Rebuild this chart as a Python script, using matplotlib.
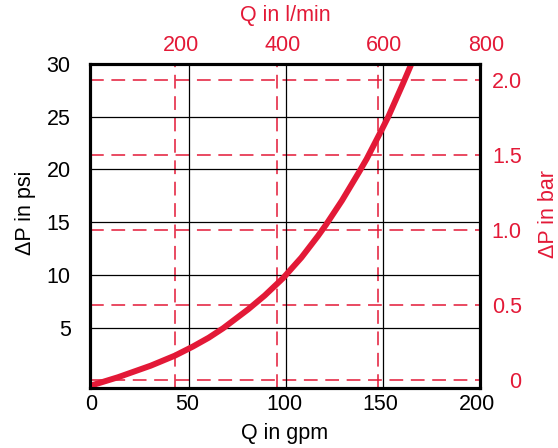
import numpy as np
import matplotlib
matplotlib.use("Agg")
import matplotlib.pyplot as plt
from matplotlib.transforms import ScaledTranslation

plt.rcParams['font.family'] = ['Liberation Sans', 'DejaVu Sans']

# pressure drop curve (Q in gpm, dP in psi)
q_gpm = [-1.2, 13, 30, 42.5, 51.7, 60, 67.5, 80.5, 89, 98.5, 108, 116.6,
         120.7, 129, 138, 141.8, 149.7, 153, 160.5, 164.6, 166]
dp_psi = [-0.5, 0.3, 1.4, 2.35, 3.2, 4.05, 4.95, 6.75, 8.05, 9.7, 11.65, 13.7,
          14.75, 17.05, 19.8, 21.0, 23.8, 25.0, 28.1, 29.85, 30.5]

gpm_ticks = [0, 50, 100, 150, 200]
psi_ticks = [5, 10, 15, 20, 25, 30]
lpm_ticks = [200, 400, 600, 800]
bar_ticks = [0, 0.5, 1.0, 1.5, 2.0]
bar_labels = ['0', '0.5', '1.0', '1.5', '2.0']

RED = '#e31937'
FS = 15.5

fig = plt.figure(figsize=(5.58, 4.48), dpi=100)
ax = fig.add_axes([90 / 558, 1 - 388 / 448, 390 / 558, 324 / 448])
ax_top = ax.twiny()
ax_right = ax.twinx()

# black grid (primary units)
for x in gpm_ticks[1:-1]:
    ax.axvline(x, color='black', lw=0.9)
for y in psi_ticks[:-1]:
    ax.axhline(y, color='black', lw=0.9)

# red dashed grid (metric units)
for x in lpm_ticks:
    ax_top.axvline(x, color=RED, lw=1.1, dashes=(9, 5))
for y in bar_ticks:
    ax_right.axhline(y, color=RED, lw=1.1, dashes=(9, 5))

ax.plot(q_gpm, dp_psi, color=RED, lw=4.3, solid_capstyle='butt',
        solid_joinstyle='round')

ax.set_xlim(-1.5, 200.5)
ax.set_ylim(-0.72, 30)
ax_top.set_xlim(33, 800)
ax_right.set_ylim(-0.053, 2.107)

ax.set_xticks(gpm_ticks)
ax.set_yticks(psi_ticks)
ax_top.set_xticks(lpm_ticks)
ax_right.set_yticks(bar_ticks)
ax_right.set_yticklabels(bar_labels)

ax.tick_params(axis='x', length=0, pad=4, labelsize=FS)
ax.tick_params(axis='y', length=0, pad=14, labelsize=FS)
ax_top.tick_params(axis='x', length=0, pad=6, labelsize=FS, labelcolor=RED)
ax_right.tick_params(axis='y', length=0, pad=30, labelsize=FS, labelcolor=RED)
plt.setp(ax_right.get_yticklabels(), ha='right')

# the printed labels sit a little off their grid lines
shift_top = ScaledTranslation(6 / 100, 0, fig.dpi_scale_trans)
for lbl in ax_top.get_xticklabels():
    lbl.set_transform(lbl.get_transform() + shift_top)
shift_bot = ScaledTranslation(-2 / 100, 0, fig.dpi_scale_trans)
for lbl in ax.get_xticklabels():
    lbl.set_transform(lbl.get_transform() + shift_bot)

# curve above the twin axes
ax.set_zorder(3)
ax.patch.set_visible(False)
for a in (ax, ax_top, ax_right):
    for s in a.spines.values():
        s.set_linewidth(2.2)

fig.text(26 / 558, 1 - 213 / 448, '\u0394P in psi', rotation=90,
         ha='center', va='center', fontsize=FS)
fig.text(549 / 558, 1 - 214 / 448, '\u0394P in bar', rotation=90,
         ha='center', va='center', fontsize=FS, color=RED)
fig.text(285 / 558, 1 - 433 / 448, 'Q in gpm',
         ha='center', va='center', fontsize=FS)
fig.text(285 / 558, 1 - 16 / 448, 'Q in l/min',
         ha='center', va='center', fontsize=FS, color=RED)

fig.savefig('out.png', dpi=100)
